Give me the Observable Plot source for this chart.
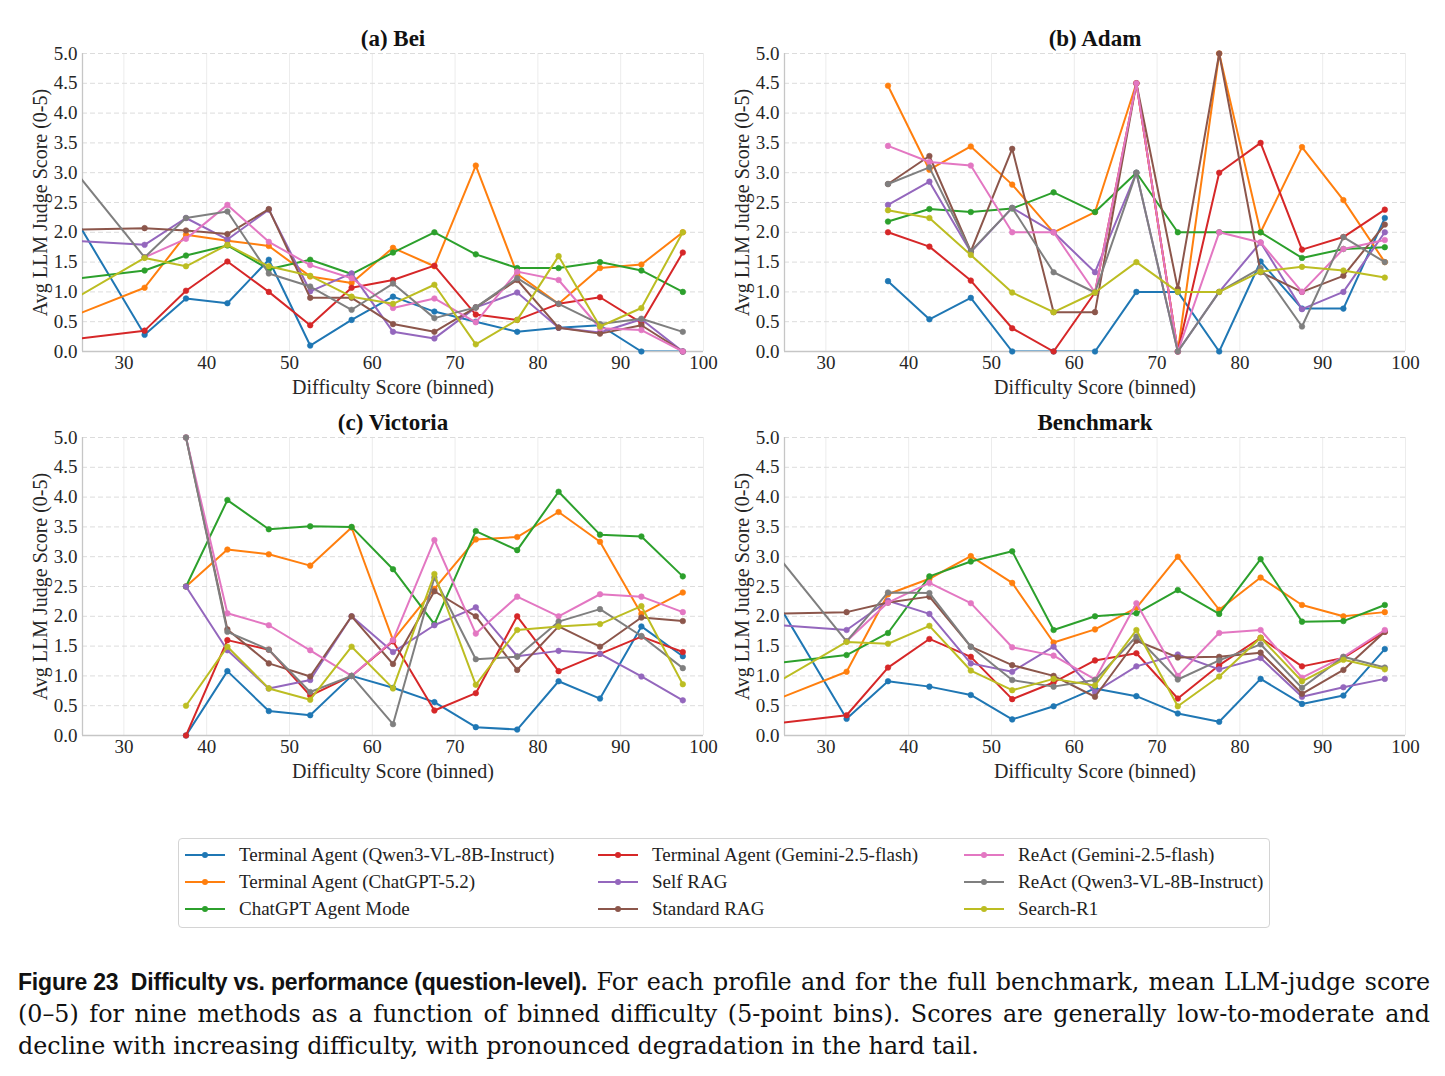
<!DOCTYPE html>
<html>
<head>
<meta charset="utf-8">
<script src="https://cdn.jsdelivr.net/npm/d3@7"></script>
<script src="https://cdn.jsdelivr.net/npm/@observablehq/plot@0.6"></script>
<style>
  body { margin: 0; background: #fff; }
  #page { position: relative; width: 1445px; height: 1076px; overflow: hidden; font-family: "Liberation Serif", serif; color: #222; }
  .panel { position: absolute; }
  #legend { position: absolute; left: 178px; top: 838px; width: 1092px; height: 90px; border: 1px solid #d4d4d4; border-radius: 4px; box-sizing: border-box; }
  .item { position: absolute; height: 20px; display: flex; align-items: center; gap: 14px; font-size: 19px; color: #222; white-space: nowrap; }
  .item svg { flex: none; }
  #caption { position: absolute; left: 18px; top: 966px; width: 1412px; font-family: "DejaVu Serif", serif; font-size: 23.8px; line-height: 32px; color: #111; }
  #caption .ln { display: block; text-align: justify; text-align-last: justify; }
  #caption .ln.last { text-align: left; text-align-last: left; }
  #caption b { display: inline-block; white-space: nowrap; font-family: "Liberation Sans", sans-serif; font-weight: bold; font-size: 23px; letter-spacing: -0.2px; }
</style>
</head>
<body>
<div id="page">
  <div id="legend"></div>
  <div id="caption">
    <span class="ln"><b>Figure 23&nbsp;&nbsp;Difficulty vs. performance (question-level).</b> For each profile and for the full benchmark, mean LLM-judge score</span>
    <span class="ln">(0–5) for nine methods as a function of binned difficulty (5-point bins). Scores are generally low-to-moderate and</span>
    <span class="ln last">decline with increasing difficulty, with pronounced degradation in the hard tail.</span>
  </div>
</div>
<script>
// Methods, in plotting order, and their colours
const methods = [
  "Terminal Agent (Qwen3-VL-8B-Instruct)",
  "Terminal Agent (ChatGPT-5.2)",
  "ChatGPT Agent Mode",
  "Terminal Agent (Gemini-2.5-flash)",
  "Self RAG",
  "Standard RAG",
  "ReAct (Gemini-2.5-flash)",
  "ReAct (Qwen3-VL-8B-Instruct)",
  "Search-R1"
];
const palette = ["#1f77b4", "#ff7f0e", "#2ca02c", "#d62728", "#9467bd", "#8c564b", "#e377c2", "#7f7f7f", "#bcbd22"];

// Bin centres of the 5-point difficulty bins (the lowest bin lies left of the visible range)
const bins = [22.5, 32.5, 37.5, 42.5, 47.5, 52.5, 57.5, 62.5, 67.5, 72.5, 77.5, 82.5, 87.5, 92.5, 97.5];
const xTicks = [30, 40, 50, 60, 70, 80, 90, 100];
const yTicks = [0, 0.5, 1, 1.5, 2, 2.5, 3, 3.5, 4, 4.5, 5];

// Mean judge score per method (rows follow `methods`, columns follow `bins`)
const beiScores = [
  [2.61, 0.28, 0.89, 0.81, 1.54, 0.10, 0.53, 0.92, 0.67, 0.50, 0.33, 0.40, 0.44, 0.00, 0.00],
  [0.52, 1.07, 1.96, 1.86, 1.77, 1.26, 1.15, 1.74, 1.43, 3.12, 1.30, 0.80, 1.40, 1.46, 2.00],
  [1.19, 1.36, 1.61, 1.78, 1.38, 1.54, 1.30, 1.66, 2.00, 1.63, 1.40, 1.40, 1.50, 1.36, 1.00],
  [0.18, 0.35, 1.02, 1.51, 1.00, 0.44, 1.07, 1.20, 1.44, 0.62, 0.53, 0.80, 0.91, 0.48, 1.66],
  [1.87, 1.79, 2.24, 1.88, 2.38, 1.01, 1.31, 0.33, 0.22, 0.74, 0.99, 0.40, 0.32, 0.54, 0.00],
  [2.04, 2.07, 2.03, 1.97, 2.39, 0.90, 0.90, 0.46, 0.33, 0.74, 1.20, 0.40, 0.30, 0.44, 0.00],
  [null, 1.58, 1.89, 2.46, 1.84, 1.45, 1.23, 0.73, 0.89, 0.49, 1.34, 1.20, 0.39, 0.36, 0.00],
  [3.30, 1.58, 2.24, 2.35, 1.31, 1.09, 0.70, 1.14, 0.56, 0.74, 1.23, 0.80, 0.46, 0.55, 0.33],
  [0.76, 1.57, 1.43, 1.79, 1.43, 1.27, 0.92, 0.80, 1.12, 0.12, 0.53, 1.60, 0.42, 0.73, 2.00]
];
const adamScores = [
  [null, null, 1.18, 0.54, 0.90, 0.00, 0.00, 0.00, 1.00, 1.00, 0.00, 1.51, 0.72, 0.72, 2.24],
  [null, null, 4.46, 3.05, 3.44, 2.80, 2.00, 2.34, 4.50, 0.00, 5.00, 2.00, 3.43, 2.54, 1.50],
  [null, null, 2.18, 2.39, 2.34, 2.40, 2.67, 2.34, 3.00, 2.00, 2.00, 2.00, 1.57, 1.72, 1.75],
  [null, null, 2.00, 1.76, 1.19, 0.39, 0.00, 0.99, 4.50, 0.00, 3.00, 3.50, 1.71, 1.92, 2.38],
  [null, null, 2.46, 2.85, 1.67, 2.41, 2.00, 1.33, 3.00, 0.00, 1.00, 1.83, 0.71, 1.00, 2.00],
  [null, null, 2.81, 3.28, 1.68, 3.40, 0.66, 0.66, 4.50, 1.05, 5.00, 1.33, 1.00, 1.27, 2.13],
  [null, null, 3.45, 3.18, 3.12, 2.00, 2.00, 0.99, 4.50, 0.00, 2.00, 1.83, 1.00, 1.72, 1.87],
  [null, null, 2.81, 3.09, 1.68, 2.41, 1.33, 0.99, 3.00, 0.00, 1.00, 1.40, 0.42, 1.92, 1.50],
  [null, null, 2.37, 2.24, 1.62, 0.99, 0.66, 0.99, 1.50, 1.00, 1.00, 1.34, 1.42, 1.36, 1.24]
];
const victoriaScores = [
  [null, null, 0.00, 1.08, 0.41, 0.34, 1.00, 0.80, 0.56, 0.14, 0.10, 0.91, 0.62, 1.83, 1.33],
  [null, null, 2.50, 3.12, 3.04, 2.85, 3.49, 1.60, 2.46, 3.29, 3.33, 3.75, 3.25, 2.04, 2.40],
  [null, null, 2.50, 3.95, 3.46, 3.51, 3.50, 2.79, 1.87, 3.43, 3.11, 4.09, 3.37, 3.34, 2.67],
  [null, null, 0.00, 1.60, 1.44, 0.67, 1.00, 1.58, 0.42, 0.71, 2.00, 1.08, 1.37, 1.66, 1.40],
  [null, null, 2.50, 1.43, 0.79, 0.93, 2.00, 1.40, 1.85, 2.15, 1.33, 1.42, 1.37, 0.99, 0.59],
  [null, null, 5.00, 1.78, 1.21, 0.99, 2.00, 1.20, 2.42, 2.00, 1.10, 1.83, 1.49, 1.98, 1.92],
  [null, null, 5.00, 2.05, 1.85, 1.43, 1.00, 1.60, 3.28, 1.71, 2.33, 2.00, 2.37, 2.33, 2.07],
  [null, null, 5.00, 1.74, 1.44, 0.73, 1.00, 0.19, 2.65, 1.28, 1.32, 1.91, 2.12, 1.67, 1.13],
  [null, null, 0.50, 1.49, 0.79, 0.60, 1.49, 0.79, 2.71, 0.85, 1.77, 1.83, 1.87, 2.17, 0.86]
];
const benchmarkScores = [
  [2.61, 0.28, 0.91, 0.82, 0.68, 0.27, 0.49, 0.79, 0.66, 0.37, 0.23, 0.95, 0.53, 0.67, 1.45],
  [0.52, 1.07, 2.37, 2.63, 3.01, 2.56, 1.56, 1.78, 2.14, 3.00, 2.11, 2.65, 2.19, 2.00, 2.07],
  [1.19, 1.35, 1.72, 2.67, 2.92, 3.09, 1.77, 2.00, 2.05, 2.44, 2.04, 2.96, 1.91, 1.92, 2.19],
  [0.18, 0.34, 1.14, 1.62, 1.32, 0.61, 0.89, 1.26, 1.38, 0.62, 1.18, 1.64, 1.16, 1.30, 1.74],
  [1.87, 1.77, 2.26, 2.04, 1.21, 1.07, 1.49, 0.73, 1.16, 1.36, 1.11, 1.30, 0.65, 0.81, 0.95],
  [2.04, 2.07, 2.23, 2.33, 1.49, 1.18, 1.00, 0.65, 1.59, 1.31, 1.32, 1.39, 0.70, 1.10, 1.74],
  [null, 1.58, 2.23, 2.56, 2.22, 1.48, 1.34, 0.94, 2.22, 1.00, 1.72, 1.77, 0.97, 1.32, 1.77],
  [3.30, 1.58, 2.40, 2.39, 1.49, 0.93, 0.82, 0.93, 1.66, 0.94, 1.26, 1.53, 0.80, 1.32, 1.14],
  [0.76, 1.57, 1.54, 1.84, 1.09, 0.76, 0.95, 0.84, 1.77, 0.49, 0.99, 1.64, 0.91, 1.27, 1.11]
];

const panels = [
  {title: "(a) Bei", scores: beiScores, left: 0, top: 0},
  {title: "(b) Adam", scores: adamScores, left: 702.3, top: 0},
  {title: "(c) Victoria", scores: victoriaScores, left: 0, top: 384},
  {title: "Benchmark", scores: benchmarkScores, left: 702.3, top: 384}
];

const page = document.getElementById("page");
const ink = "#262626";

function drawPanel({title, scores, left, top}) {
  const rows = [];
  scores.forEach((vals, i) => vals.forEach((v, j) => {
    if (v != null) rows.push({method: methods[i], bin: bins[j], score: v});
  }));

  // One line + markers per method, drawn in order so later methods sit on top
  const seriesMarks = methods.flatMap((m) => {
    const data = rows.filter((r) => r.method === m);
    return [
      Plot.line(data, {x: "bin", y: "score", stroke: "method", strokeWidth: 2, clip: true}),
      Plot.dot(data.filter((r) => r.bin >= 25), {x: "bin", y: "score", fill: "method", r: 2.8, stroke: "method", strokeWidth: 0.6})
    ];
  });

  const chart = Plot.plot({
    width: 722,
    height: 401,
    marginLeft: 82,
    marginRight: 19,
    marginTop: 53,
    marginBottom: 50,
    x: {domain: [25, 100]},
    y: {domain: [0, 5]},
    color: {domain: methods, range: palette},
    style: {fontFamily: "'Liberation Serif', serif", color: ink, background: "transparent", overflow: "visible"},
    marks: [
      Plot.gridX(xTicks, {stroke: "#ececec", strokeOpacity: 1, strokeWidth: 1}),
      Plot.gridY(yTicks.slice(1), {stroke: "#dcdcdc", strokeOpacity: 1, strokeWidth: 1, strokeDasharray: "5,3"}),
      Plot.ruleX([25], {stroke: "#c6c6c6", strokeWidth: 1.3}),
      Plot.ruleY([0], {stroke: "#c6c6c6", strokeWidth: 1.3}),
      Plot.axisX(xTicks, {tickSize: 0, tickPadding: 4, fontSize: 19, label: null, fill: ink}),
      Plot.axisY(yTicks, {tickSize: 0, tickPadding: 5, fontSize: 19, label: null, fill: ink, tickFormat: (d) => d.toFixed(1)}),
      ...seriesMarks,
      Plot.text([title], {frameAnchor: "top", dy: -15, fontSize: 23, fontWeight: "bold", fill: "#111", lineAnchor: "middle"}),
      Plot.text(["Difficulty Score (binned)"], {frameAnchor: "bottom", dy: 36, fontSize: 20, fill: ink, lineAnchor: "middle"}),
      Plot.text(["Avg LLM Judge Score (0-5)"], {frameAnchor: "left", dx: -42, rotate: -90, fontSize: 20, fill: ink, textAnchor: "middle", lineAnchor: "middle"})
    ]
  });
  chart.classList.add("panel");
  chart.style.left = left + "px";
  chart.style.top = top + "px";
  page.appendChild(chart);
}

panels.forEach(drawPanel);

// Legend: three columns, filled column by column
const legend = document.getElementById("legend");
const colX = [6, 419, 785];
const rowY = [16, 43, 70];
methods.forEach((m, i) => {
  const col = Math.floor(i / 3), row = i % 3;
  const item = document.createElement("div");
  item.className = "item";
  item.style.left = colX[col] + "px";
  item.style.top = (rowY[row] - 10) + "px";
  item.innerHTML =
    `<svg width="40" height="12"><line x1="0" x2="40" y1="6" y2="6" stroke="${palette[i]}" stroke-width="2.2"/>` +
    `<circle cx="20" cy="6" r="3" fill="${palette[i]}"/></svg><span>${m}</span>`;
  legend.appendChild(item);
});
</script>
</body>
</html>
